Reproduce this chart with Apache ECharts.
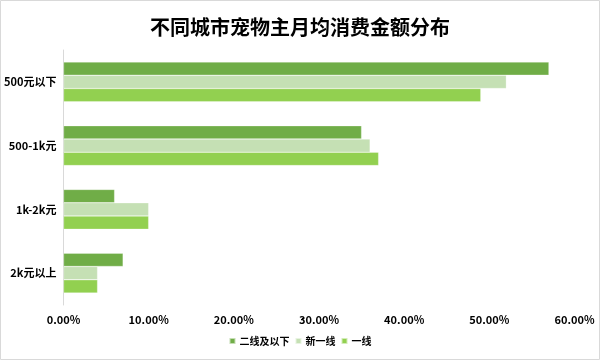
<!DOCTYPE html>
<html><head><meta charset="utf-8">
<script src="https://cdn.jsdelivr.net/npm/echarts@6/dist/echarts.min.js"></script>
<style>html,body{margin:0;padding:0;background:#fff}#c{width:600px;height:360px}</style>
</head><body><div id="c"></div>
<script>
const categories = ['500元以下', '500-1k元', '1k-2k元', '2k元以上'];
const seriesNames = ['二线及以下', '新一线', '一线'];
const tier2Below = [57, 35, 6, 7];
const newTier1 = [52, 36, 10, 4];
const tier1 = [49, 37, 10, 4];
const xTicks = [0, 10, 20, 30, 40, 50, 60];
const colors = ['#70ad47', '#c5e0b4', '#92d050'];
const FONT = '"Noto Sans CJK SC", "Noto Sans", sans-serif';

const chart = echarts.init(document.getElementById('c'));
const dataSets = [tier2Below, newTier1, tier1];
chart.setOption({
  animation: false,
  textStyle: { fontFamily: FONT },
  graphic: [{ type: 'rect', shape: { x: 0.5, y: 0.5, width: 599, height: 359 }, style: { fill: 'none', stroke: '#d9d9d9', lineWidth: 1 }, silent: true }],
  title: {
    text: '不同城市宠物主月均消费金额分布', left: 'center', top: 12,
    textStyle: { fontSize: 20, fontWeight: 'bold', color: '#000', fontFamily: FONT }
  },
  legend: {
    data: seriesNames, bottom: 9, left: 'center', itemWidth: 6, itemHeight: 6, itemGap: 5, icon: 'rect',
    textStyle: { fontSize: 10, fontWeight: 'bold', color: '#000', fontFamily: FONT, padding: [0, 0, 0, -1] }
  },
  grid: { left: 63.5, right: 25.5, top: 50, bottom: 55, containLabel: false },
  xAxis: {
    type: 'value', min: xTicks[0], max: xTicks[xTicks.length - 1], interval: 10,
    axisLine: { show: false }, axisTick: { show: false }, splitLine: { show: false },
    axisLabel: { margin: 9, fontSize: 11, fontWeight: 'bold', color: '#000', fontFamily: FONT, formatter: v => v.toFixed(2) + '%' }
  },
  yAxis: {
    type: 'category', data: categories, inverse: true,
    axisLine: { show: true, lineStyle: { color: '#d9d9d9', width: 1 } }, axisTick: { show: false },
    axisLabel: { margin: 7, fontSize: 11, fontWeight: 'bold', color: '#000', fontFamily: FONT }
  },
  series: seriesNames.map((n, i) => ({
    name: n, type: 'bar', data: dataSets[i], barWidth: 13.3, barGap: '0%',
    itemStyle: { color: colors[i], borderColor: 'rgba(255,255,255,0.6)', borderWidth: 0.5 }
  }))
});
</script></body></html>
